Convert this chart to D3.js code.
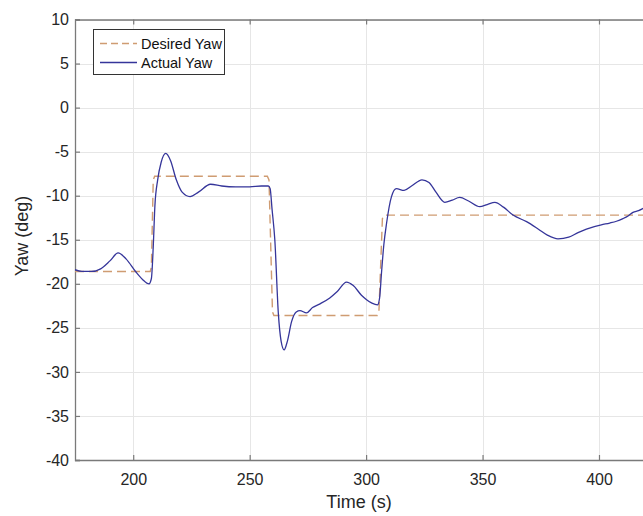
<!DOCTYPE html>
<html>
<head>
<meta charset="utf-8">
<script src="https://cdn.jsdelivr.net/npm/d3@7"></script>
<style>
  html, body { margin: 0; padding: 0; background: #fff; }
  svg { display: block; }
  text { font-family: "Liberation Sans", Arial, sans-serif; }
</style>
</head>
<body>
<script>
// ---- data ----
const xTicks = [200, 250, 300, 350, 400];
const yTicks = [10, 5, 0, -5, -10, -15, -20, -25, -30, -35, -40];
const seriesNames = ["Desired Yaw", "Actual Yaw"];

const desiredTime = [175, 207.3, 207.8, 208.6, 209.2, 257.6, 258.3, 259.8, 260.4, 304.8, 305.5, 307.0, 307.7, 420];
const desiredYaw  = [-18.6, -18.6, -18.1, -8.2, -7.8, -7.8, -8.2, -23.2, -23.6, -23.6, -23.2, -12.6, -12.2, -12.2];

const actualTime = [175, 178, 182, 186, 190, 193.5, 197, 201, 204, 206.8, 207.8, 208.6, 209.3, 210.5, 212, 214, 216, 218.5, 221, 224.4, 228, 233.2, 238, 244, 250, 255, 258, 258.8, 259.6, 260.8, 262.3, 263.5, 264.8, 266.2, 268, 270, 271.6, 274.4, 277, 280, 284.4, 287.5, 291.6, 294.5, 298, 300.2, 302.5, 304.9, 305.8, 306.6, 307.6, 308.8, 310.9, 313, 316.3, 319.5, 324, 327, 330, 333.8, 337, 340.2, 344, 348.8, 352, 355.3, 359, 363.1, 368.9, 374, 378, 382.4, 387, 391, 394.6, 398, 401, 404.6, 407.5, 410.3, 412.5, 414.6, 417, 420];
const actualYaw  = [-18.4, -18.6, -18.6, -18.3, -17.4, -16.5, -17.2, -18.6, -19.5, -20.0, -19.4, -15.8, -11.2, -8.2, -6.2, -5.2, -6.0, -8.2, -9.6, -10.1, -9.6, -8.7, -8.9, -9.0, -9.0, -8.9, -8.9, -9.2, -11.5, -15.0, -23.3, -26.5, -27.5, -26.5, -24.3, -23.2, -23.05, -23.3, -22.7, -22.3, -21.6, -20.9, -19.8, -20.2, -21.3, -21.8, -22.2, -22.4, -21.6, -18.8, -15.6, -13.1, -10.1, -9.2, -9.4, -8.9, -8.2, -8.5, -9.6, -10.75, -10.5, -10.2, -10.6, -11.25, -11.0, -10.75, -11.3, -12.2, -12.95, -13.8, -14.5, -14.9, -14.7, -14.2, -13.8, -13.5, -13.3, -13.1, -12.9, -12.6, -12.3, -11.9, -11.7, -11.3];

// ---- layout ----
const W = 643, H = 516;
const pL = 75, pT = 19.5, pB = 460, pR = 643;

const svg = d3.select("body").append("svg").attr("width", W).attr("height", H);

const x = d3.scaleLinear().domain([175, 418.9]).range([pL, pR]);
const y = d3.scaleLinear().domain([-40, 10]).range([pB, pT]);

const clipId = "plotclip";
svg.append("defs").append("clipPath").attr("id", clipId)
  .append("rect").attr("x", pL).attr("y", pT).attr("width", pR - pL + 2).attr("height", pB - pT);

// grid
const grid = svg.append("g").attr("stroke", "#e6e6e6").attr("stroke-width", 1);
grid.selectAll("line.gx").data(xTicks).join("line")
  .attr("x1", d => Math.round(x(d)) + 0.5).attr("x2", d => Math.round(x(d)) + 0.5)
  .attr("y1", pT).attr("y2", pB);
grid.selectAll("line.gy").data(yTicks).join("line")
  .attr("x1", pL).attr("x2", pR)
  .attr("y1", d => Math.round(y(d)) + 0.5).attr("y2", d => Math.round(y(d)) + 0.5);

// axes
const axisColor = "#7a7a7a";
const fmt = d => String(d);
const xAxis = svg.append("g").attr("transform", `translate(0,${pB})`)
  .call(d3.axisBottom(x).tickValues(xTicks).tickSize(-5).tickPadding(14).tickFormat(fmt));
const xAxisTop = svg.append("g").attr("transform", `translate(0,${pT})`)
  .call(d3.axisTop(x).tickValues(xTicks).tickSize(-5).tickFormat(""));
const yAxis = svg.append("g").attr("transform", `translate(${pL},0)`)
  .call(d3.axisLeft(y).tickValues(yTicks).tickSize(-5).tickPadding(6).tickFormat(fmt));

[xAxis, xAxisTop, yAxis].forEach(g => {
  g.select(".domain").attr("stroke", axisColor).attr("stroke-width", 1.3);
  g.selectAll(".tick line").attr("stroke", axisColor).attr("stroke-width", 1.2);
  g.selectAll(".tick text").attr("fill", "#262626").attr("font-size", 16)
    .attr("font-family", "'Liberation Sans', Arial, sans-serif");
});
xAxis.select(".domain").attr("d", `M${pL},0.5H${pR + 2}`);
xAxisTop.select(".domain").attr("d", `M${pL},0.5H${pR + 2}`);

// series
const plot = svg.append("g").attr("clip-path", `url(#${clipId})`);
const desired = desiredTime.map((t, i) => [t, desiredYaw[i]]);
const actual = actualTime.map((t, i) => [t, actualYaw[i]]);

plot.append("path").datum(desired)
  .attr("fill", "none").attr("stroke", "#cf9c72").attr("stroke-width", 1.4)
  .attr("stroke-dasharray", "9,5")
  .attr("d", d3.line().x(d => x(d[0])).y(d => y(d[1])));

plot.append("path").datum(actual)
  .attr("fill", "none").attr("stroke", "#35359a").attr("stroke-width", 1.3)
  .attr("d", d3.line().curve(d3.curveMonotoneX).x(d => x(d[0])).y(d => y(d[1])));

// axis labels
svg.append("text").attr("x", (pL + pR) / 2).attr("y", 508)
  .attr("text-anchor", "middle").attr("font-size", 18).attr("fill", "#262626").text("Time (s)");
svg.append("text").attr("transform", `translate(28,236) rotate(-90)`)
  .attr("text-anchor", "middle").attr("font-size", 18).attr("fill", "#262626").text("Yaw (deg)");

// legend
const lg = svg.append("g");
lg.append("rect").attr("x", 93.5).attr("y", 29.5).attr("width", 131).attr("height", 45)
  .attr("fill", "#fff").attr("stroke", "#333").attr("stroke-width", 1);
const legendItems = [
  { name: seriesNames[0], color: "#cf9c72", dash: "7,4" },
  { name: seriesNames[1], color: "#35359a", dash: null }
];
legendItems.forEach((d, i) => {
  const yy = 43.5 + i * 19;
  lg.append("line").attr("x1", 100).attr("x2", 137).attr("y1", yy).attr("y2", yy)
    .attr("stroke", d.color).attr("stroke-width", 1.4).attr("stroke-dasharray", d.dash);
  lg.append("text").attr("x", 141).attr("y", yy + 5).attr("font-size", 14.5)
    .attr("fill", "#111").text(d.name);
});
</script>
</body>
</html>
